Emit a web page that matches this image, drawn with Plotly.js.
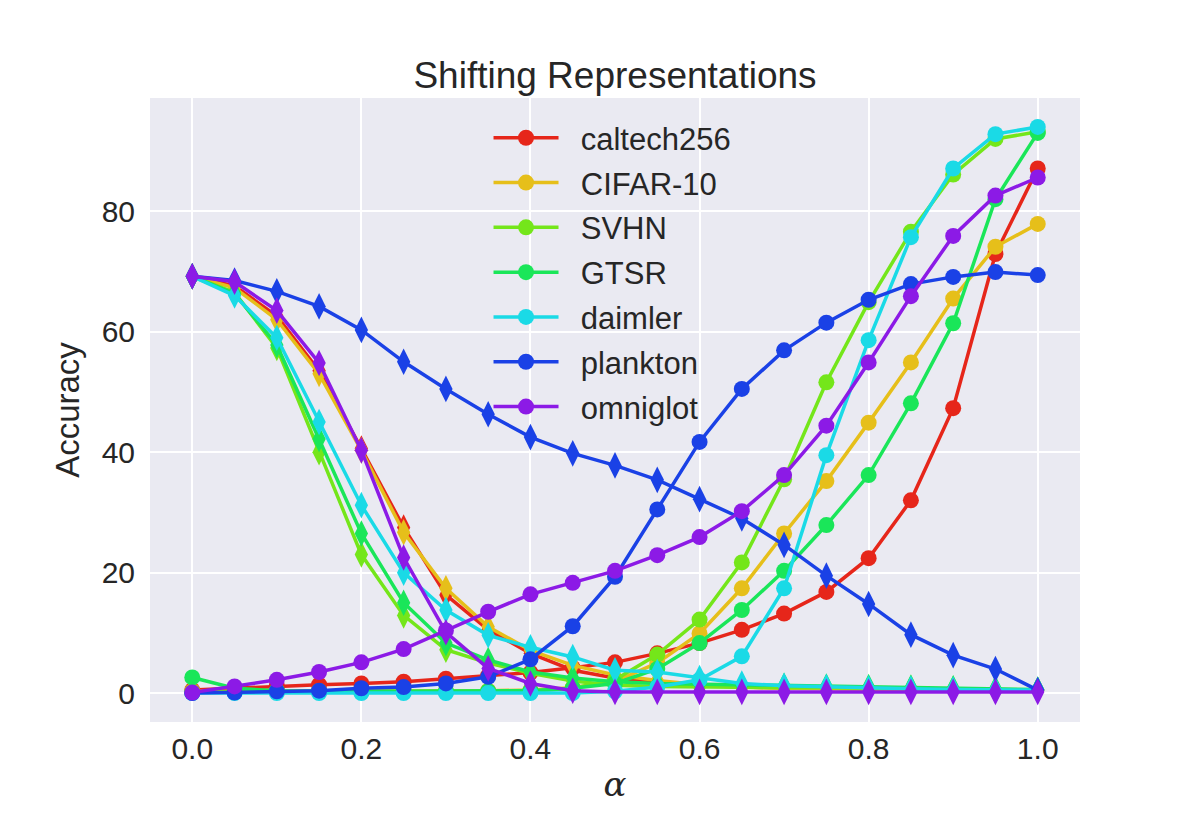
<!DOCTYPE html>
<html>
<head>
<meta charset="utf-8">
<script src="https://cdn.plot.ly/plotly-3.0.1.min.js"></script>
<style>
  html, body { margin: 0; padding: 0; background: #ffffff; }
  #chart { width: 1200px; height: 825px; }
</style>
</head>
<body>
<div id="chart"></div>
<script>
// Mixing coefficient alpha
const alpha = [0.0, 0.05, 0.1, 0.15, 0.2, 0.25, 0.3, 0.35, 0.4, 0.45, 0.5,
               0.55, 0.6, 0.65, 0.7, 0.75, 0.8, 0.85, 0.9, 0.95, 1.0];

const datasets = ["caltech256", "CIFAR-10", "SVHN", "GTSR", "daimler", "plankton", "omniglot"];
const colors = ["#e6261a", "#e6bf1a", "#74e61a", "#1ae659", "#1adae6", "#1a41e6", "#8c1ae6"];

// Accuracy on the target dataset (rises with alpha)
const caltech256Up = [0.5, 0.8, 1.2, 1.4, 1.6, 1.9, 2.4, 2.9, 3.4, 4.2, 5.1, 6.6, 8.3, 10.5, 13.2, 16.8, 22.4, 32.0, 47.3, 72.9, 87.1];
const cifar10Up    = [0.3, 0.3, 0.3, 0.3, 0.3, 0.3, 0.3, 0.4, 0.5, 0.9, 1.9, 5.0, 9.9, 17.4, 26.5, 35.2, 44.9, 54.9, 65.5, 74.1, 77.9];
const svhnUp       = [0.2, 0.2, 0.2, 0.2, 0.2, 0.2, 0.2, 0.2, 0.3, 0.8, 2.2, 6.4, 12.2, 21.7, 35.5, 51.6, 64.9, 76.6, 86.1, 92.0, 93.2];
const gtsrUp       = [2.6, 0.8, 0.4, 0.3, 0.3, 0.3, 0.3, 0.3, 0.4, 0.8, 1.6, 4.0, 8.3, 13.8, 20.3, 27.9, 36.2, 48.1, 61.4, 82.0, 93.0];
const daimlerUp    = [0.0, 0.0, 0.0, 0.0, 0.0, 0.0, 0.0, 0.0, 0.0, 0.0, 0.3, 1.0, 2.2, 6.1, 17.4, 39.5, 58.6, 75.7, 87.1, 92.8, 94.0];
const planktonUp   = [0.0, 0.1, 0.3, 0.4, 0.8, 1.0, 1.6, 2.7, 5.6, 11.1, 19.3, 30.5, 41.7, 50.5, 56.9, 61.5, 65.3, 67.9, 69.1, 69.9, 69.4];
const omniglotUp   = [0.1, 1.1, 2.2, 3.5, 5.1, 7.3, 10.4, 13.5, 16.4, 18.3, 20.3, 22.9, 25.9, 30.2, 36.2, 44.4, 54.9, 65.9, 75.9, 82.6, 85.6];

// Accuracy on the source representation (falls with alpha)
const caltech256Down = [69.2, 67.6, 62.6, 53.5, 40.6, 27.5, 16.3, 10.5, 6.6, 3.8, 2.5, 1.8, 1.3, 1.0, 0.9, 0.8, 0.7, 0.6, 0.5, 0.5, 0.5];
const cifar10Down    = [69.2, 67.3, 62.0, 53.0, 40.3, 26.7, 17.4, 11.0, 7.1, 4.6, 3.0, 2.1, 1.4, 1.0, 0.8, 0.7, 0.6, 0.5, 0.5, 0.4, 0.4];
const svhnDown       = [69.2, 66.5, 57.3, 40.0, 23.0, 12.9, 7.2, 5.0, 3.3, 2.0, 1.3, 1.1, 1.0, 1.0, 0.9, 0.9, 0.8, 0.8, 0.7, 0.6, 0.5];
const gtsrDown       = [69.2, 66.3, 57.8, 42.2, 26.5, 15.0, 8.3, 5.5, 3.5, 2.5, 1.9, 1.6, 1.5, 1.3, 1.2, 1.1, 1.0, 0.9, 0.8, 0.7, 0.6];
const daimlerDown    = [69.2, 66.0, 59.0, 45.0, 31.2, 20.0, 13.8, 9.6, 7.6, 6.0, 3.8, 3.5, 2.5, 1.6, 1.2, 1.0, 0.8, 0.7, 0.6, 0.5, 0.5];
const planktonDown   = [69.2, 68.5, 66.7, 64.2, 60.3, 55.0, 50.5, 46.3, 42.5, 39.8, 37.8, 35.4, 32.2, 29.0, 24.6, 19.5, 14.8, 9.7, 6.3, 4.0, 0.5];
const omniglotDown   = [69.2, 68.3, 63.5, 54.8, 40.3, 22.5, 10.1, 4.1, 1.6, 0.4, 0.2, 0.2, 0.2, 0.2, 0.2, 0.2, 0.2, 0.2, 0.2, 0.2, 0.2];

const upSeries = [caltech256Up, cifar10Up, svhnUp, gtsrUp, daimlerUp, planktonUp, omniglotUp];
const downSeries = [caltech256Down, cifar10Down, svhnDown, gtsrDown, daimlerDown, planktonDown, omniglotDown];

const FONT = "Liberation Sans, Arial, sans-serif";
const TEXT = "#262626";

const traces = [];
datasets.forEach((name, i) => {
  traces.push({
    x: alpha, y: upSeries[i], type: "scatter", mode: "lines+markers",
    // a little padding between the legend swatch and its label
    name: "\u00a0\u00a0" + name,
    line: { color: colors[i], width: 3.5 },
    marker: { symbol: "circle", size: 16, color: colors[i] },
    legendgroup: name, showlegend: true
  });
  traces.push({
    x: alpha, y: downSeries[i], name: name, type: "scatter", mode: "lines+markers",
    line: { color: colors[i], width: 3.5 },
    marker: { symbol: "diamond-tall", size: 19, color: colors[i] },
    legendgroup: name, showlegend: false
  });
});

const layout = {
  width: 1200, height: 825,
  paper_bgcolor: "#ffffff",
  plot_bgcolor: "#eaeaf2",
  margin: { l: 150, r: 120, t: 98, b: 103 },
  font: { family: FONT, color: TEXT, size: 30 },
  title: {
    text: "Shifting Representations",
    font: { family: FONT, size: 37, color: TEXT },
    x: 0.5, xref: "paper", xanchor: "center",
    y: 0.909, yref: "container", yanchor: "middle"
  },
  xaxis: {
    range: [-0.05, 1.05],
    tickvals: [0, 0.2, 0.4, 0.6, 0.8, 1.0],
    ticktext: ["0.0", "0.2", "0.4", "0.6", "0.8", "1.0"],
    showgrid: true, gridcolor: "#ffffff", gridwidth: 2,
    zeroline: false, showline: false, ticks: "",
    ticklabelstandoff: 6,
    tickfont: { family: FONT, size: 30, color: TEXT },
    title: { text: "<i>α</i>", font: { family: "DejaVu Serif, serif", size: 34, color: TEXT }, standoff: 8 }
  },
  yaxis: {
    range: [-4.8, 98.8],
    tickvals: [0, 20, 40, 60, 80],
    showgrid: true, gridcolor: "#ffffff", gridwidth: 2,
    zeroline: false, showline: false, ticks: "",
    ticklabelstandoff: 14,
    tickfont: { family: FONT, size: 30, color: TEXT },
    title: { text: "Accuracy", font: { family: FONT, size: 33, color: TEXT }, standoff: 12 }
  },
  legend: {
    x: 0.364, y: 0.979, xanchor: "left", yanchor: "top",
    bgcolor: "rgba(0,0,0,0)", borderwidth: 0,
    font: { family: FONT, size: 31, color: TEXT },
    itemwidth: 65,
    tracegroupgap: 1.5
  },
  showlegend: true
};

Plotly.newPlot("chart", traces, layout, { displayModeBar: false, staticPlot: true });
</script>
</body>
</html>
